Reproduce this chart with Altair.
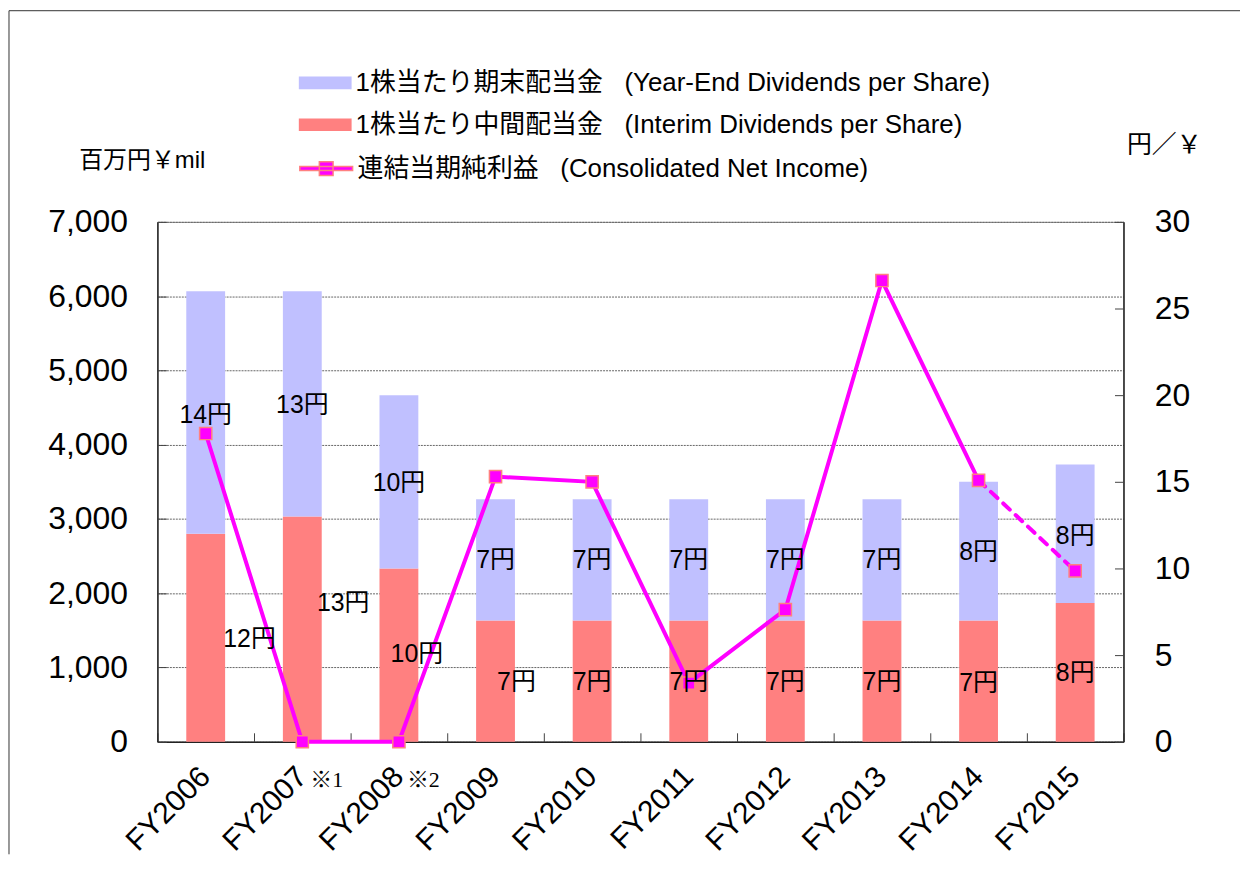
import altair as alt
import pandas as pd

# ---------------- data ----------------
fiscal_years = ["FY2006", "FY2007", "FY2008", "FY2009", "FY2010",
                "FY2011", "FY2012", "FY2013", "FY2014", "FY2015"]
interim_div = [12, 13, 10, 7, 7, 7, 7, 7, 7, 8]          # 円 per share
year_end_div = [14, 13, 10, 7, 7, 7, 7, 7, 8, 8]         # 円 per share
net_income = [4150, 0, 0, 3570, 3500, 790, 1780, 6210, 3520, 2300]  # 百万円

# data-label anchors (in 百万円 units of the left axis) and sideways nudges
year_end_label_at = [4400, 4530, 3490, 2440, 2440, 2440, 2440, 2440, 2560, 2775]
interim_label_at = [1380, 1870, 1180, 800, 800, 800, 800, 800, 790, 925]
interim_label_dx = [44, 41, 18, 21, 0, 0, 0, 0, 0, 0]
note_years = ["FY2007", "FY2008"]
note_texts = ["※1", "※2"]
note_at = -510

SP = "\u00a0\u00a0\u00a0"
YE = "1株当たり期末配当金" + SP + "(Year-End Dividends per Share)"
IN = "1株当たり中間配当金" + SP + "(Interim Dividends per Share)"
NI = "連結当期純利益" + SP + "(Consolidated Net Income)"

FONT = "Liberation Sans, Noto Sans CJK JP"
W, H = 970, 522

# ---------------- tables ----------------
div_rows = []
for fy, i, y in zip(fiscal_years, interim_div, year_end_div):
    div_rows.append({"FY": fy, "series": IN, "yen": i, "ord": 0})
    div_rows.append({"FY": fy, "series": YE, "yen": y, "ord": 1})
df_div = pd.DataFrame(div_rows)

df_ni = pd.DataFrame({"FY": fiscal_years, "ni": net_income, "series": NI})
df_solid = df_ni.iloc[:9]
df_dash = df_ni.iloc[8:]

lab_rows = []
for k, fy in enumerate(fiscal_years):
    lab_rows.append({"FY": fy, "text": f"{year_end_div[k]}円", "pos": year_end_label_at[k], "dx": 0})
    lab_rows.append({"FY": fy, "text": f"{interim_div[k]}円", "pos": interim_label_at[k], "dx": interim_label_dx[k]})
df_lab = pd.DataFrame(lab_rows)
df_note = pd.DataFrame({"FY": note_years, "text": note_texts, "pos": [note_at] * len(note_years)})

# ---------------- scales / axes ----------------
x_scale = alt.Scale(domain=fiscal_years, paddingInner=0, paddingOuter=0)
yen_scale = alt.Scale(domain=[0, 30], nice=False, zero=True)
mil_scale = alt.Scale(domain=[0, 7000], nice=False, zero=True)
yen_ticks = [0, 5, 10, 15, 20, 25, 30]
mil_ticks = list(range(0, 7001, 1000))

x_label_axis = alt.Axis(orient="bottom", title=None, labelAngle=-45, labelAlign="right",
                        labelBaseline="middle", labelPadding=30, labelFontSize=30,
                        labelFont=FONT, labelColor="black", ticks=False, tickSize=0,
                        domain=True, domainColor="#222", domainWidth=1.5, grid=False,
                        labelLimit=300)
x_tick_axis = alt.Axis(orient="top", offset=-H, title=None, labels=False, domain=False,
                       ticks=True, tickSize=9, tickColor="#444", tickBand="extent", grid=False)

right_axis = alt.Axis(orient="right", values=yen_ticks, title="円／￥",
                      titleAngle=0, titleAlign="left", titleBaseline="middle",
                      titleX=3, titleY=-78, titleFontSize=25, titleFont=FONT,
                      titleFontWeight="normal", titleColor="black",
                      labelFontSize=32, labelFont=FONT, labelPadding=31, labelColor="black",
                      ticks=False, tickSize=0, domain=True, domainColor="#222",
                      domainWidth=1.5, grid=False)
right_tick_axis = alt.Axis(orient="left", offset=-W, values=yen_ticks,
                           title=None, labels=False, domain=False, ticks=True, tickSize=9,
                           tickColor="#444", grid=False)

left_axis = alt.Axis(orient="left", values=mil_ticks, format=",.0f",
                     title="百万円￥mil", titleAngle=0, titleAlign="left",
                     titleBaseline="middle", titleX=-79, titleY=-62, titleFontSize=24,
                     titleFont=FONT, titleFontWeight="normal", titleColor="black",
                     labelFontSize=32, labelFont=FONT, labelPadding=30, labelColor="black",
                     ticks=False, tickSize=0, domain=True, domainColor="#222",
                     domainWidth=1.5, grid=True, gridColor="#666", gridDash=[2, 1],
                     gridWidth=1)
left_tick_axis = alt.Axis(orient="right", offset=-W, values=mil_ticks,
                          title=None, labels=False, domain=False, ticks=True, tickSize=9,
                          tickColor="#444", grid=False)

color_legend = alt.Legend(orient="none", legendX=142, legendY=-166, title=None,
                          symbolType="M-1,-0.24H1V0.24H-1Z", symbolSize=2809,
                          symbolStrokeWidth=0, labelFontSize=26, labelFont=FONT,
                          labelColor="black", labelLimit=1000, labelOffset=4,
                          rowPadding=2, padding=0)
ni_legend = alt.Legend(orient="none", legendX=142, legendY=-81, title=None,
                       symbolType="M-1,-0.075H1V0.075H-1Z M-0.26,-0.26H0.26V0.26H-0.26Z",
                       symbolSize=2809, labelFontSize=26, labelFont=FONT,
                       labelColor="black", labelLimit=1000, labelOffset=4, padding=0)

# ---------------- bars (right, 円 axis) ----------------
bars = alt.Chart(df_div).mark_bar(size=39).encode(
    x=alt.X("FY:N", scale=x_scale, axis=x_label_axis),
    y=alt.Y("yen:Q", stack="zero", scale=yen_scale, axis=right_axis),
    color=alt.Color("series:N", scale=alt.Scale(domain=[YE, IN], range=["#C0C0FF", "#FF8080"]),
                    legend=color_legend),
    order=alt.Order("ord:Q"),
)
bar_ticks = alt.Chart(df_div).mark_bar(size=39, opacity=0).encode(
    x=alt.X("FY:N", scale=x_scale, axis=x_tick_axis),
    y=alt.Y("yen:Q", stack="zero", scale=yen_scale, axis=right_tick_axis),
    order=alt.Order("ord:Q"),
)

# ---------------- net income (left, 百万円 axis) ----------------
line_solid = alt.Chart(df_solid).mark_line(color="#FF00FF", strokeWidth=4).encode(
    x=alt.X("FY:N", scale=x_scale, axis=None),
    y=alt.Y("ni:Q", scale=mil_scale, axis=left_axis),
)
line_dash = alt.Chart(df_dash).mark_line(color="#FF00FF", strokeWidth=4,
                                         strokeDash=[9, 8], strokeCap="round").encode(
    x=alt.X("FY:N", scale=x_scale, axis=None),
    y=alt.Y("ni:Q", scale=mil_scale, axis=None),
)
points = alt.Chart(df_ni).mark_square(size=150, opacity=1, stroke="#FF8080",
                                      strokeWidth=1.5).encode(
    x=alt.X("FY:N", scale=x_scale, axis=None),
    y=alt.Y("ni:Q", scale=mil_scale, axis=None),
    fill=alt.Fill("series:N", scale=alt.Scale(domain=[NI], range=["#FF00FF"]),
                  legend=ni_legend),
)

label_layers = []
for n, d in enumerate(sorted(df_lab["dx"].unique())):
    sub = df_lab[df_lab["dx"] == d]
    ax = left_tick_axis if n == 0 else None
    label_layers.append(
        alt.Chart(sub).mark_text(dx=int(d), fontSize=25, font=FONT, color="black",
                                 baseline="middle", align="center").encode(
            x=alt.X("FY:N", scale=x_scale, axis=None),
            y=alt.Y("pos:Q", scale=mil_scale, axis=ax),
            text="text:N",
        )
    )
notes = alt.Chart(df_note).mark_text(dx=8, fontSize=22,
                                     font="Liberation Serif, Noto Sans CJK JP",
                                     color="black", baseline="middle", align="left").encode(
    x=alt.X("FY:N", scale=x_scale, axis=None),
    y=alt.Y("pos:Q", scale=mil_scale, axis=None),
    text="text:N",
)

frame_df = pd.DataFrame({"k": [0]})
frame_top = alt.Chart(frame_df).mark_rule(color="#333", strokeWidth=1).encode(
    x=alt.value(-149), x2=alt.value(1087), y=alt.value(-212))
frame_left = alt.Chart(frame_df).mark_rule(color="#333", strokeWidth=1).encode(
    x=alt.value(-149), y=alt.value(-212), y2=alt.value(635))

chart = (
    alt.layer(bars, bar_ticks, line_solid, line_dash, points, *label_layers, notes,
              frame_top, frame_left)
    .resolve_scale(y="independent")
    .resolve_axis(x="independent", y="independent")
    .properties(width=W, height=H, padding=0, background="white")
    .configure_view(stroke="#888", strokeWidth=1)
)

chart.save("out.html", embed_options={"renderer": "svg", "actions": False})
